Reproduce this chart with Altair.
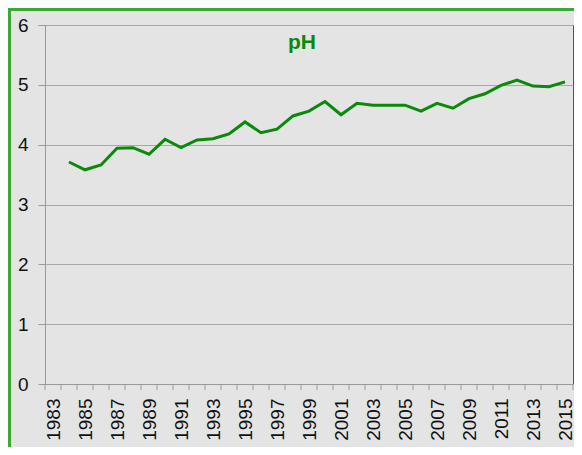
import altair as alt
import pandas as pd

years = list(range(1984, 2016))
ph = [3.71, 3.58, 3.66, 3.94, 3.95, 3.84, 4.09, 3.95, 4.08, 4.10, 4.18, 4.38,
      4.20, 4.26, 4.48, 4.56, 4.72, 4.50, 4.69, 4.66, 4.66, 4.66, 4.56, 4.69,
      4.61, 4.77, 4.85, 4.99, 5.08, 4.98, 4.97, 5.05]
categories = list(range(1983, 2016))
label_years = [y for y in categories if (y - 1983) % 2 == 0]
y_ticks = [0, 1, 2, 3, 4, 5, 6]

df = pd.DataFrame({"year": years, "ph": ph})
bounds = pd.DataFrame({"b": [c - 0.5 for c in categories] + [categories[-1] + 0.5]})

W, H = 528, 359
PADL = 37
FONT = "Liberation Sans"
GREEN = "#0a8a0a"

xscale = alt.Scale(domain=[categories[0] - 0.5, categories[-1] + 0.5], nice=False, zero=False)
yscale = alt.Scale(domain=[0, 6], nice=False)

xaxis = alt.Axis(values=label_years, format="d", labelAngle=270, labelAlign="right",
                 labelBaseline="middle", ticks=False, labelPadding=14, grid=False,
                 title=None, labelFontSize=19, labelColor="#111111",
                 domainColor="#9a9a9a", labelFont=FONT, labelOverlap=False,
                 labelBound=False, labelFlush=False)

line = alt.Chart(df).mark_line(color=GREEN, strokeWidth=3).encode(
    x=alt.X("year:Q", scale=xscale, axis=xaxis),
    y=alt.Y("ph:Q", scale=yscale,
            axis=alt.Axis(values=y_ticks, title=None, grid=True, gridColor="#a8a8a8",
                          tickSize=7, tickColor="#9a9a9a", domainColor="#9a9a9a",
                          labelPadding=10, labelFontSize=19, labelColor="#111111",
                          labelFont=FONT)),
)

ticks = alt.Chart(bounds).mark_rule(color="#9a9a9a", strokeWidth=1).encode(
    x=alt.X("b:Q", scale=xscale, axis=xaxis),
    y=alt.value(H),
    y2=alt.value(H + 6),
)

border = alt.Chart(df).mark_rect(fill=None, stroke="#3aaa35", strokeWidth=3, clip=False).encode(
    x=alt.value(-PADL + 1.5), x2=alt.value(W + 60), y=alt.value(-15.5), y2=alt.value(H + 120)
)

chart = alt.layer(line, ticks, border).properties(
    width=W, height=H,
    autosize=alt.AutoSizeParams(type="none"),
    padding={"left": PADL, "top": 17, "right": 1, "bottom": 63},
    title=alt.Title("pH", color=GREEN, fontSize=21, fontWeight="bold", font=FONT,
                    anchor="middle", frame="group", dx=-7, offset=-45),
).configure(background="#e3e4e3").configure_view(stroke="#555555", strokeWidth=1)

chart.save("out.html", embed_options={"renderer": "svg", "actions": False})
